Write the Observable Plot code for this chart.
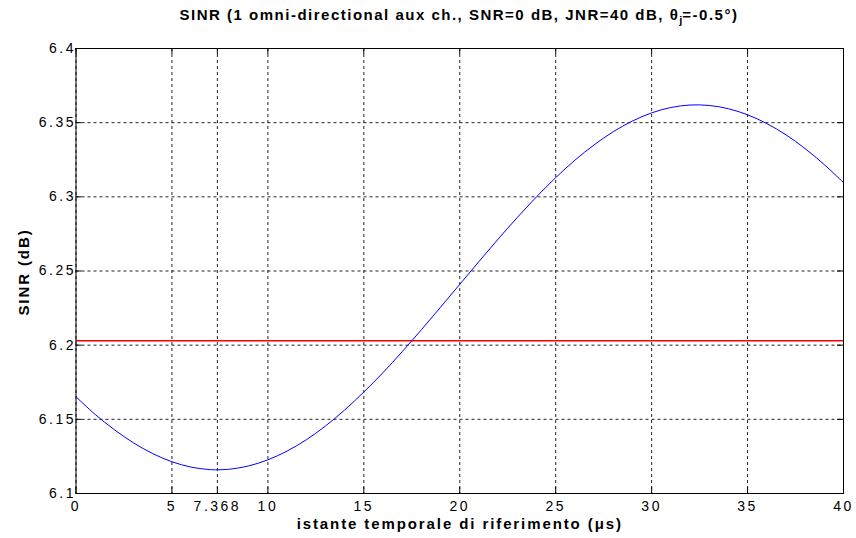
<!DOCTYPE html>
<html>
<head>
<meta charset="utf-8">
<script src="https://cdn.jsdelivr.net/npm/d3@7"></script>
<script src="https://cdn.jsdelivr.net/npm/@observablehq/plot@0.6"></script>
<style>
  html, body { margin: 0; padding: 0; background: #ffffff; }
  #wrap { width: 856px; height: 538px; position: relative; font-family: "Liberation Sans", Arial, sans-serif; }
  #title { height: 38px; box-sizing: border-box; padding-top: 6px; padding-left: 62px; text-align: center;
           font-weight: bold; font-size: 15px; color: #000; letter-spacing: 1.5px; white-space: nowrap; }
  #title sub { font-size: 11px; vertical-align: -4px; line-height: 0; letter-spacing: 0; }
  #ylab { position: absolute; left: 23px; top: 272px; transform: translate(-50%, -50%) rotate(-90deg);
          font-weight: bold; font-size: 15px; letter-spacing: 1.9px; white-space: nowrap; color: #000; line-height: 1; }
  .chart g[aria-label="x-axis tick label"], .chart g[aria-label="y-axis tick label"] { letter-spacing: 2.5px; }
  .chart .axlabel { letter-spacing: 1.9px; }
</style>
</head>
<body>
<div id="wrap">
  <div id="title">SINR (1 omni-directional aux ch., SNR=0 dB, JNR=40 dB, θ<sub>j</sub>=-0.5°)</div>
  <div id="chart"></div>
  <div id="ylab"></div>
</div>
<script>
// Time instants (µs) and SINR values (dB)
const timeUs = [0, 1, 2, 3, 4, 5, 6, 7, 7.368, 8, 9, 10, 11, 12, 13, 14, 15, 16, 17, 18, 19, 20,
                21, 22, 23, 24, 25, 26, 27, 28, 29, 30, 31, 32, 33, 34, 35, 36, 37, 38, 39, 40];
const sinrDb = [6.1652, 6.1533, 6.1430, 6.1341, 6.1269, 6.1214, 6.1178, 6.1161, 6.1160, 6.1164, 6.1186,
                6.1227, 6.1286, 6.1362, 6.1455, 6.1563, 6.1684, 6.1815, 6.1956, 6.2104, 6.2256, 6.2410,
                6.2564, 6.2715, 6.2861, 6.3000, 6.3129, 6.3247, 6.3350, 6.3439, 6.3511, 6.3566, 6.3602,
                6.3619, 6.3616, 6.3594, 6.3553, 6.3494, 6.3418, 6.3325, 6.3217, 6.3096];
// Reference SINR level (red line)
const refSinrDb = [6.203];
// Tick values
const xTicks = [0, 5, 7.368, 10, 15, 20, 25, 30, 35, 40];
const yTicks = [6.1, 6.15, 6.2, 6.25, 6.3, 6.35, 6.4];
const xLabel = "istante temporale di riferimento (μs)";
const yLabel = "SINR (dB)";

document.getElementById("ylab").textContent = yLabel;

const data = timeUs.map((t, i) => ({t, v: sinrDb[i]}));

const W = 856, H = 500;
const mL = 75.5, mR = 13, mT = 10, mB = 45;
const innerW = W - mL - mR, innerH = H - mT - mB;
const tickLen = 6;
const font = '"Liberation Sans", Arial, sans-serif';

const chart = Plot.plot({
  width: W,
  height: H,
  marginLeft: mL,
  marginRight: mR,
  marginTop: mT,
  marginBottom: mB,
  className: "chart",
  style: {fontFamily: font, fontSize: "14px", color: "#000", background: "#fff"},
  x: {domain: [0, 40]},
  y: {domain: [6.1, 6.4]},
  marks: [
    // dashed grid
    Plot.ruleX(xTicks, {x: d => d, stroke: "#222", strokeWidth: 1, strokeDasharray: "3,3"}),
    Plot.ruleY(yTicks, {y: d => d, stroke: "#222", strokeWidth: 1, strokeDasharray: "3,3"}),
    // inward ticks
    Plot.tickX(xTicks, {x: d => d, insetTop: innerH - tickLen, stroke: "#000"}),
    Plot.tickX(xTicks, {x: d => d, insetBottom: innerH - tickLen, stroke: "#000"}),
    Plot.tickY(yTicks, {y: d => d, insetRight: innerW - tickLen, stroke: "#000"}),
    Plot.tickY(yTicks, {y: d => d, insetLeft: innerW - tickLen, stroke: "#000"}),
    // axes (labels only)
    Plot.axisX(xTicks, {tickSize: 0, tickPadding: 8, tickFormat: d => String(d), fontSize: 14, label: null}),
    Plot.axisY(yTicks, {tickSize: 0, tickPadding: 0, tickFormat: d => String(d), fontSize: 14, label: null}),
    // reference line
    Plot.ruleY(refSinrDb, {y: d => d, stroke: "#ff0000", strokeWidth: 1.5}),
    // SINR curve
    Plot.line(data, {x: "t", y: "v", stroke: "#0000ff", strokeWidth: 1, curve: "catmull-rom"}),
    // frame
    Plot.frame({stroke: "#000", strokeWidth: 1}),
    // x axis title
    Plot.text([xLabel], {text: d => d, frameAnchor: "bottom", dy: 35, fontWeight: "bold", fontSize: 15, className: "axlabel"})
  ]
});
document.getElementById("chart").appendChild(chart);
</script>
</body>
</html>
